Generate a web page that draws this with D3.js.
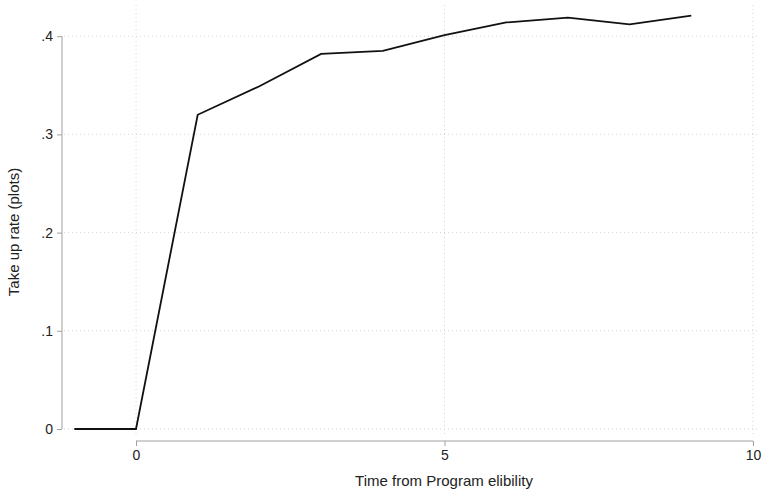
<!DOCTYPE html>
<html>
<head>
<meta charset="utf-8">
<script src="https://cdn.jsdelivr.net/npm/d3@7"></script>
<style>
body { margin: 0; background: #fff; }
text { font-family: "Liberation Sans", Arial, sans-serif; fill: #222; }
</style>
</head>
<body>
<svg id="chart" width="765" height="493"></svg>
<script>
// take up rate by time from program eligibility
var years = [-1, 0, 1, 2, 3, 4, 5, 6, 7, 8, 9]
var takeUp = [0, 0, 0.320, 0.349, 0.382, 0.385, 0.401, 0.414, 0.419, 0.412, 0.421]
var xTicks = [0, 5, 10]
var yTicks = [0, 0.1, 0.2, 0.3, 0.4]

var svg = d3.select('#chart')
var axisColor = '#a0a0a0'
var gridColor = '#d4d4d4'

var xScale = d3.scaleLinear().domain([0, 10]).range([136, 753])
var yScale = d3.scaleLinear().domain([0, 0.4]).range([429, 36.2])

function fmtY(v) {
	if (v == 0) return '0'
	return d3.format('.1f')(v).replace(/^0/, '')
}

// grid
svg.append('g').selectAll('line')
	.data(yTicks).enter().append('line')
	.attr('x1', 64).attr('x2', 758)
	.attr('y1', d => yScale(d)).attr('y2', d => yScale(d))
	.style('stroke', gridColor).style('stroke-dasharray', '1,3')
svg.append('g').selectAll('line')
	.data(xTicks).enter().append('line')
	.attr('x1', d => xScale(d)).attr('x2', d => xScale(d))
	.attr('y1', 5).attr('y2', 437)
	.style('stroke', gridColor).style('stroke-dasharray', '1,3')

// y axis
var gy = svg.append('g').attr('transform', 'translate(62,0)')
	.call(d3.axisLeft(yScale).tickValues(yTicks).tickFormat(fmtY).tickSize(5).tickPadding(4))
gy.select('.domain').attr('d', 'M0,' + yScale(0.4) + 'V' + yScale(0)).style('stroke', axisColor)
gy.selectAll('.tick line').style('stroke', axisColor)
gy.selectAll('.tick text').style('font-size', '14px').style('font-family', '"Liberation Sans", Arial, sans-serif').style('fill', '#222')

// x axis
var gx = svg.append('g').attr('transform', 'translate(0,441)')
	.call(d3.axisBottom(xScale).tickValues(xTicks).tickFormat(d3.format('d')).tickSize(5).tickPadding(4))
gx.select('.domain').attr('d', 'M' + xScale(0) + ',0H' + xScale(10)).style('stroke', axisColor)
gx.selectAll('.tick line').style('stroke', axisColor)
gx.selectAll('.tick text').style('font-size', '14px').style('font-family', '"Liberation Sans", Arial, sans-serif').style('fill', '#222')

// line
var line = d3.line()
	.x((d, i) => xScale(years[i]))
	.y(d => yScale(d))
svg.append('path')
	.datum(takeUp)
	.attr('d', line)
	.style('fill', 'none')
	.style('stroke', '#111')
	.attr('stroke-width', 1.8)

// titles
svg.append('text')
	.attr('x', 444).attr('y', 486)
	.style('text-anchor', 'middle').style('font-size', '15px')
	.text('Time from Program elibility')
svg.append('text')
	.attr('transform', 'translate(19,232) rotate(-90)')
	.style('text-anchor', 'middle').style('font-size', '15px')
	.text('Take up rate (plots)')
</script>
</body>
</html>
